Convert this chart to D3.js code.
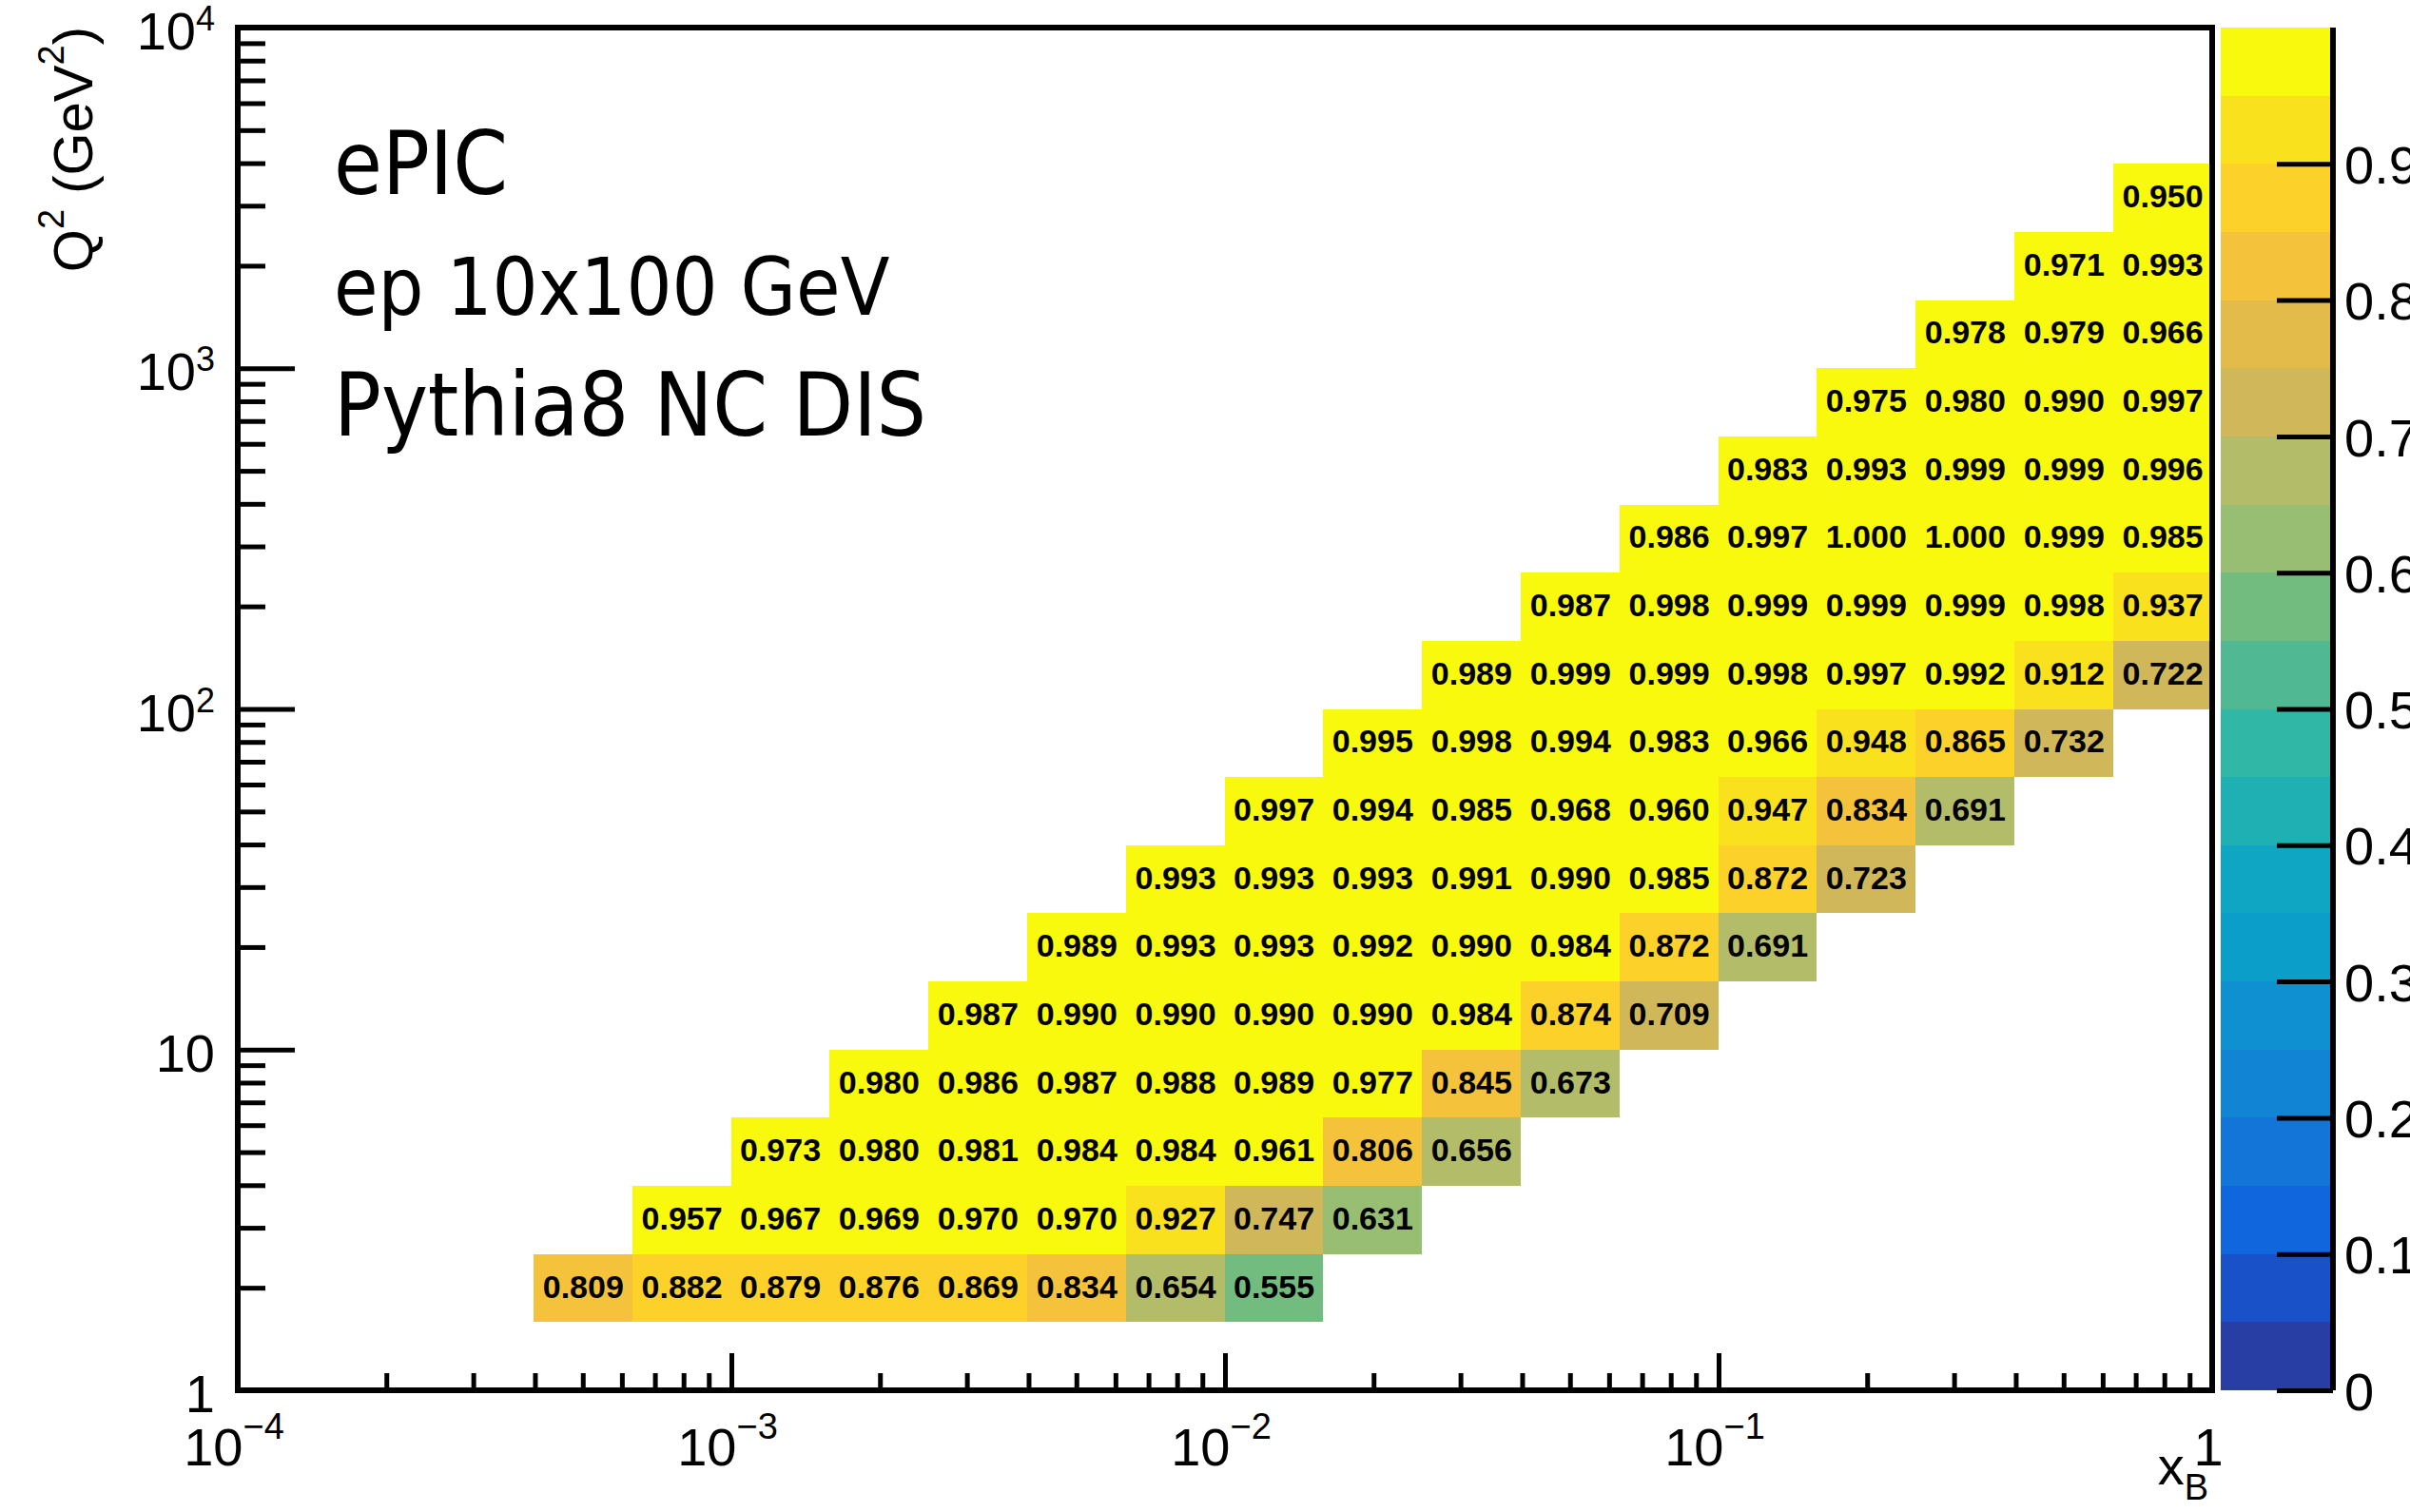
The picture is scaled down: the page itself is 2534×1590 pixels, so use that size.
<!DOCTYPE html>
<html>
<head>
<meta charset="utf-8">
<script src="https://cdn.jsdelivr.net/npm/d3@7/dist/d3.min.js"></script>
<style>
body { margin: 0; background: #fff; }
text { font-family: "Liberation Sans", Arial, Helvetica, sans-serif; }
</style>
</head>
<body>
<div id="graph"></div>
<script>
// bin edges (x_B and Q^2), five log bins per decade
var xEdges = [0.000398, 0.000631, 0.001, 0.00158, 0.00251, 0.00398, 0.00631, 0.01, 0.0158,
              0.0251, 0.0398, 0.0631, 0.1, 0.158, 0.251, 0.398, 0.631, 1];
var q2Edges = [1.585, 2.512, 3.981, 6.31, 10, 15.85, 25.12, 39.81, 63.1,
               100, 158.5, 251.2, 398.1, 631, 1000, 1585, 2512, 3981];

// first x bin of each Q^2 row, then the cell values of that row (bottom row first)
var rowFirstBin = [0, 1, 2, 3, 4, 5, 6, 7, 8, 9, 10, 11, 12, 13, 14, 15, 16];
var rowValues = [
  [0.809, 0.882, 0.879, 0.876, 0.869, 0.834, 0.654, 0.555],
  [0.957, 0.967, 0.969, 0.970, 0.970, 0.927, 0.747, 0.631],
  [0.973, 0.980, 0.981, 0.984, 0.984, 0.961, 0.806, 0.656],
  [0.980, 0.986, 0.987, 0.988, 0.989, 0.977, 0.845, 0.673],
  [0.987, 0.990, 0.990, 0.990, 0.990, 0.984, 0.874, 0.709],
  [0.989, 0.993, 0.993, 0.992, 0.990, 0.984, 0.872, 0.691],
  [0.993, 0.993, 0.993, 0.991, 0.990, 0.985, 0.872, 0.723],
  [0.997, 0.994, 0.985, 0.968, 0.960, 0.947, 0.834, 0.691],
  [0.995, 0.998, 0.994, 0.983, 0.966, 0.948, 0.865, 0.732],
  [0.989, 0.999, 0.999, 0.998, 0.997, 0.992, 0.912, 0.722],
  [0.987, 0.998, 0.999, 0.999, 0.999, 0.998, 0.937],
  [0.986, 0.997, 1.000, 1.000, 0.999, 0.985],
  [0.983, 0.993, 0.999, 0.999, 0.996],
  [0.975, 0.980, 0.990, 0.997],
  [0.978, 0.979, 0.966],
  [0.971, 0.993],
  [0.950]
];

// 20 colour levels from 0 to 1 (low -> high)
var palette = ["#283ea4", "#1851c8", "#1066dc", "#1475d9", "#1284d4", "#0f90d0", "#0a9ec9",
               "#0ea6c3", "#1fb0b3", "#30b7a5", "#50b893", "#73bc80", "#98be73", "#b3bd69",
               "#d0b75a", "#e2bb4b", "#f4c33b", "#fcd22a", "#f9e11e", "#f9f90e"];

var xMajor = [1e-4, 1e-3, 1e-2, 1e-1, 1];
var xMajorLabels = [["10", "\u22124"], ["10", "\u22123"], ["10", "\u22122"], ["10", "\u22121"], ["1", ""]];
var yMajor = [1, 10, 100, 1000, 10000];
var yMajorLabels = [["1", ""], ["10", ""], ["10", "2"], ["10", "3"], ["10", "4"]];
var zTicks = [0, 0.1, 0.2, 0.3, 0.4, 0.5, 0.6, 0.7, 0.8, 0.9];
var infoLines = ["ePIC", "ep 10x100 GeV", "Pythia8 NC DIS"];
var infoSize = [92, 84, 92];

var W = 2534, H = 1590;
var frame = {left: 250, right: 2326, top: 29, bottom: 1462};
var bar = {left: 2335, right: 2453};

var svg = d3.select("#graph").append("svg")
  .attr("width", W)
  .attr("height", H);

var x = d3.scaleLog().domain([1e-4, 1]).range([frame.left, frame.right]);
var y = d3.scaleLog().domain([1, 1e4]).range([frame.bottom, frame.top]);
var z = d3.scaleLinear().domain([0, 1]).range([frame.bottom, frame.top]);
var color = d3.scaleQuantize().domain([0, 1]).range(palette);

// flatten rows into cells
var cells = [];
rowValues.forEach(function(row, j) {
  row.forEach(function(v, k) {
    var i = rowFirstBin[j] + k;
    cells.push({x0: xEdges[i], x1: xEdges[i + 1], y0: q2Edges[j], y1: q2Edges[j + 1], v: v});
  });
});

var cellG = svg.append("g");
cellG.selectAll("rect")
  .data(cells)
  .enter().append("rect")
  .attr("x", function(d) { return x(d.x0); })
  .attr("y", function(d) { return y(d.y1); })
  .attr("width", function(d) { return x(d.x1) - x(d.x0); })
  .attr("height", function(d) { return y(d.y0) - y(d.y1); })
  .attr("fill", function(d) { return color(d.v); })
  .attr("shape-rendering", "crispEdges");

cellG.selectAll("text")
  .data(cells)
  .enter().append("text")
  .attr("x", function(d) { return (x(d.x0) + x(d.x1)) / 2; })
  .attr("y", function(d) { return (y(d.y0) + y(d.y1)) / 2 + 10; })
  .attr("text-anchor", "middle")
  .style("font-size", "34px")
  .style("font-weight", "bold")
  .text(function(d) { return d.v.toFixed(3); });

// ticks (inward), minor then major
var xMinor = x.ticks().filter(function(t) { return xMajor.indexOf(t) < 0; });
var yMinor = y.ticks().filter(function(t) { return yMajor.indexOf(t) < 0; });

function styleTicks(g) {
  g.select(".domain").remove();
  g.selectAll("line").attr("stroke", "#000").attr("stroke-width", 5);
}

svg.append("g")
  .attr("transform", "translate(0," + frame.bottom + ")")
  .call(d3.axisBottom(x).tickValues(xMinor).tickSize(-18).tickFormat(""))
  .call(styleTicks);
svg.append("g")
  .attr("transform", "translate(0," + frame.bottom + ")")
  .call(d3.axisBottom(x).tickValues(xMajor).tickSize(-39).tickFormat(""))
  .call(styleTicks);
svg.append("g")
  .attr("transform", "translate(" + frame.left + ",0)")
  .call(d3.axisLeft(y).tickValues(yMinor).tickSize(-29).tickFormat(""))
  .call(styleTicks);
svg.append("g")
  .attr("transform", "translate(" + frame.left + ",0)")
  .call(d3.axisLeft(y).tickValues(yMajor).tickSize(-60).tickFormat(""))
  .call(styleTicks);

// frame
svg.append("rect")
  .attr("x", frame.left)
  .attr("y", frame.top)
  .attr("width", frame.right - frame.left)
  .attr("height", frame.bottom - frame.top)
  .attr("fill", "none")
  .attr("stroke", "#000")
  .attr("stroke-width", 6);

// tick labels with superscripts
var xLab = svg.append("g").selectAll("text")
  .data(xMajor)
  .enter().append("text")
  .attr("x", function(d) { return x(d) - 4; })
  .attr("y", 1541)
  .attr("text-anchor", "middle")
  .style("font-size", "56px");
xLab.append("tspan").text(function(d, i) { return xMajorLabels[i][0]; });
xLab.append("tspan")
  .attr("dy", -28)
  .style("font-size", "38px")
  .text(function(d, i) { return xMajorLabels[i][1]; });

var yLab = svg.append("g").selectAll("text")
  .data(yMajor)
  .enter().append("text")
  .attr("x", 226)
  .attr("y", function(d) { return y(d) + 23; })
  .attr("text-anchor", "end")
  .style("font-size", "56px");
yLab.append("tspan").text(function(d, i) { return yMajorLabels[i][0]; });
yLab.append("tspan")
  .attr("dy", -20)
  .style("font-size", "36px")
  .text(function(d, i) { return yMajorLabels[i][1]; });

// axis titles
var yTitle = svg.append("text")
  .attr("transform", "translate(97,28) rotate(-90)")
  .attr("text-anchor", "end")
  .style("font-size", "58px");
yTitle.append("tspan").text("Q");
yTitle.append("tspan").attr("dy", -30).style("font-size", "38px").text("2");
yTitle.append("tspan").attr("dy", 30).text(" (GeV");
yTitle.append("tspan").attr("dy", -30).style("font-size", "38px").text("2");
yTitle.append("tspan").attr("dy", 30).text(")");

var xTitle = svg.append("text")
  .attr("x", 2322)
  .attr("y", 1561)
  .attr("text-anchor", "end")
  .style("font-size", "56px");
xTitle.append("tspan").text("x");
xTitle.append("tspan").attr("dy", 16).style("font-size", "38px").text("B");

// info text
svg.append("g").selectAll("text")
  .data(infoLines)
  .enter().append("text")
  .attr("x", 351)
  .attr("y", function(d, i) { return 204 + i * 127; })
  .style("font-family", "'DejaVu Sans Condensed', 'DejaVu Sans', sans-serif")
  .style("font-stretch", "condensed")
  .style("font-size", function(d, i) { return infoSize[i] + "px"; })
  .text(function(d) { return d; });

// colour bar
var bands = d3.range(palette.length);
svg.append("g").selectAll("rect")
  .data(bands)
  .enter().append("rect")
  .attr("x", bar.left)
  .attr("y", function(i) { return z((i + 1) / palette.length); })
  .attr("width", bar.right - bar.left)
  .attr("height", function(i) { return z(i / palette.length) - z((i + 1) / palette.length); })
  .attr("fill", function(i) { return palette[i]; })
  .attr("shape-rendering", "crispEdges");

var zAxis = svg.append("g")
  .attr("transform", "translate(" + bar.right + ",0)")
  .call(d3.axisRight(z).tickValues(zTicks).tickSize(-59).tickPadding(12).tickFormat(d3.format("~g")));
zAxis.select(".domain").attr("stroke-width", 6).attr("d", "M0," + frame.bottom + "V" + frame.top);
zAxis.selectAll("line").attr("stroke-width", 5);
zAxis.selectAll("text")
  .style("font-size", "56px")
  .style("font-family", "'Liberation Sans', Arial, sans-serif")
  .attr("dy", "0.36em");
</script>
</body>
</html>
